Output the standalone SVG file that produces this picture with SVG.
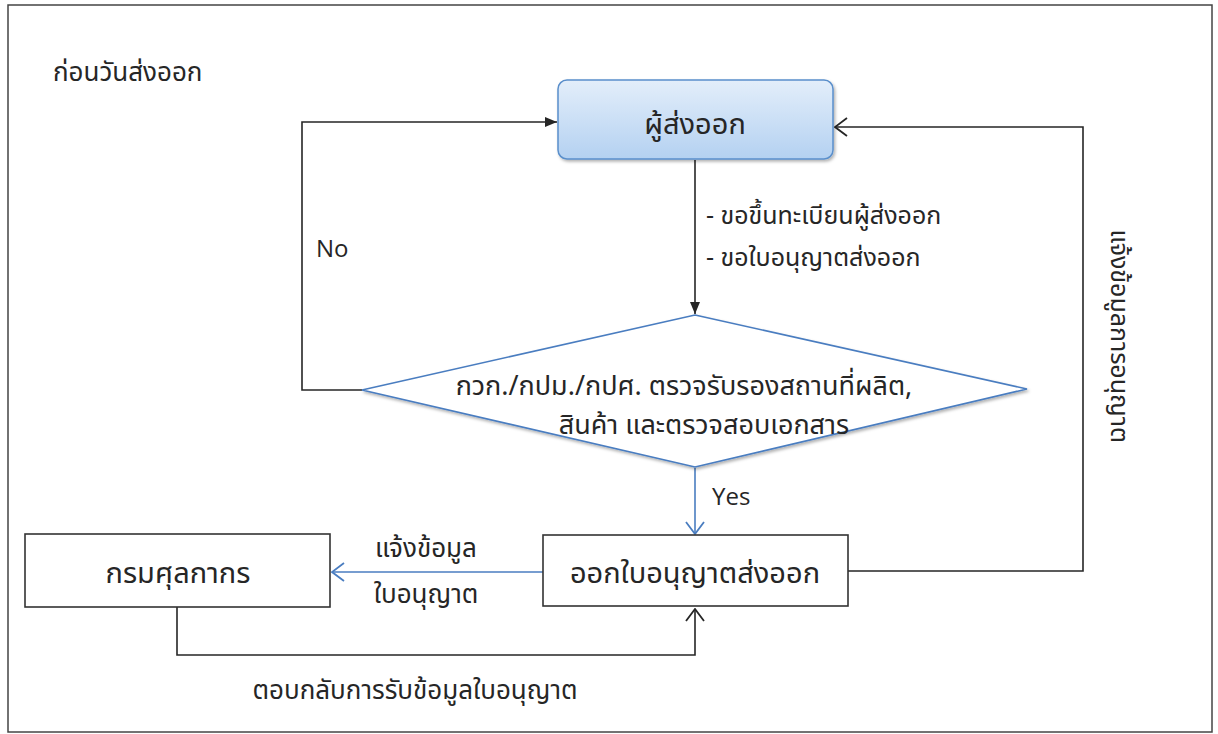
<svg xmlns="http://www.w3.org/2000/svg" width="1218" height="734" viewBox="0 0 1218 734">
<style>
.t{font-family:"Noto Sans Thai","Noto Sans",sans-serif;fill:#262626}
.en{font-family:"Open Sans","Noto Sans",sans-serif;fill:#262626}
.box{fill:#fff;stroke:#333;stroke-width:1.6}
.k{fill:none;stroke:#262626;stroke-width:1.6}
.b{fill:none;stroke:#4a7dc0;stroke-width:1.6}
</style>
<defs>
<linearGradient id="g" x1="0" y1="0" x2="0" y2="1">
<stop offset="0" stop-color="#e3eefa"/>
<stop offset="1" stop-color="#b4d1f1"/>
</linearGradient>
<filter id="sh" x="-5%" y="-10%" width="112%" height="125%">
<feDropShadow dx="1.5" dy="2" stdDeviation="1.5" flood-color="#000" flood-opacity="0.3"/>
</filter>
<marker id="af" viewBox="0 0 12 10" refX="12" refY="5" markerWidth="12" markerHeight="10" markerUnits="userSpaceOnUse" orient="auto">
<path d="M0,0L12,5L0,10z" fill="#262626"/>
</marker>
<marker id="ao" viewBox="0 0 14 20" refX="13" refY="10" markerWidth="14" markerHeight="20" markerUnits="userSpaceOnUse" orient="auto">
<path d="M1,1L13,10L1,19" fill="none" stroke="#262626" stroke-width="1.8"/>
</marker>
<marker id="ab" viewBox="0 0 14 20" refX="13" refY="10" markerWidth="14" markerHeight="20" markerUnits="userSpaceOnUse" orient="auto">
<path d="M1,1L13,10L1,19" fill="none" stroke="#4a7dc0" stroke-width="1.8"/>
</marker>
</defs>
<rect x="0" y="0" width="1218" height="734" fill="#fff"/>
<rect id="frame" x="8" y="5" width="1204" height="727" fill="none" stroke="#444" stroke-width="1.5"/>
<text class="t" x="53" y="81" font-size="26">ก่อนวันส่งออก</text>

<g id="connectors">
<path class="k" d="M362,390H302V122H557" marker-end="url(#af)"/>
<path class="k" d="M695,160V314" marker-end="url(#af)"/>
<path class="b" d="M695,468V534" marker-end="url(#ab)"/>
<path class="b" d="M543,572H332" marker-end="url(#ab)"/>
<path class="k" d="M848,571H1083V127H835" marker-end="url(#ao)"/>
<path class="k" d="M177,607V655H695V609" marker-end="url(#ao)"/>
<text class="en" x="316" y="257" font-size="24">No</text>
<text class="en" x="712" y="505" font-size="24">Yes</text>
<text class="t" x="706" y="224" font-size="25">- ขอขึ้นทะเบียนผู้ส่งออก</text>
<text class="t" x="706" y="266" font-size="25">- ขอใบอนุญาตส่งออก</text>
<text class="t" x="426" y="557" font-size="26" text-anchor="middle">แจ้งข้อมูล</text>
<text class="t" x="426" y="603" font-size="26" text-anchor="middle">ใบอนุญาต</text>
<text class="t" x="415" y="699" font-size="26" text-anchor="middle">ตอบกลับการรับข้อมูลใบอนุญาต</text>
<text class="t" transform="translate(1111,336) rotate(90)" font-size="25" text-anchor="middle">แจ้งข้อมูลการอนุญาต</text>
</g>

<g id="exporter">
<rect x="558" y="80" width="275" height="79" rx="9" fill="url(#g)" stroke="#5a8fcb" stroke-width="1.5" filter="url(#sh)"/>
<text class="t" x="695" y="134" font-size="29" text-anchor="middle">ผู้ส่งออก</text>
</g>

<g id="check">
<path d="M695,315L1027,389L695,467L362,390Z" fill="#fff" stroke="#4a7dc0" stroke-width="1.6" filter="url(#sh)"/>
<text class="t" x="684" y="395" font-size="27" text-anchor="middle">กวก./กปม./กปศ. ตรวจรับรองสถานที่ผลิต,</text>
<text class="t" x="704" y="434" font-size="27" text-anchor="middle">สินค้า และตรวจสอบเอกสาร</text>
</g>

<g id="issue">
<rect class="box" x="543" y="535" width="305" height="71"/>
<text class="t" x="695" y="583" font-size="29" text-anchor="middle">ออกใบอนุญาตส่งออก</text>
</g>

<g id="customs">
<rect class="box" x="25" y="534" width="305" height="73"/>
<text class="t" x="178" y="583" font-size="29" text-anchor="middle">กรมศุลกากร</text>
</g>
</svg>
